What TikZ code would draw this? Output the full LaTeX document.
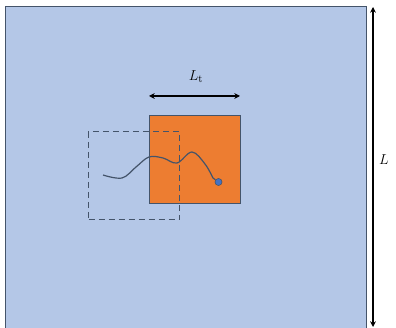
\documentclass[tikz,border=0pt]{standalone}
\usepackage{tikz}
\usetikzlibrary{arrows.meta,positioning}

\definecolor{domblue}{HTML}{B4C7E7}
\definecolor{traporange}{HTML}{ED7D31}
\definecolor{edgegray}{HTML}{44546A}
\definecolor{dotblue}{HTML}{4472C4}

\begin{document}
\begin{tikzpicture}[
    x=1pt, y=-1pt,
    every node/.style={font=\fontsize{15}{18}\selectfont},
    sq/.style={rectangle, draw=edgegray, line width=1pt, inner sep=0pt},
    dsq/.style={sq, dashed, dash pattern=on 6pt off 4pt},
    dim/.style={{Stealth[length=2mm,width=2mm]}-{Stealth[length=2mm,width=2mm]}, line width=1.2pt},
    walk/.style={draw=edgegray, line width=1.2pt},
    pt/.style={circle, draw=edgegray, fill=dotblue, minimum size=7pt, inner sep=0pt, line width=0.6pt},
  ]
  \useasboundingbox (0,0) rectangle (396,328);
  \begin{scope}
    \clip (0,0) rectangle (396,328);
    \node[sq, fill=domblue, minimum width=361pt, minimum height=330pt] (domain) at (185.5,172) {};
  \end{scope}
  \node[sq, fill=traporange, minimum width=91pt, minimum height=88pt] (trap) at (194.5,160) {};
  \node[dsq, minimum width=91pt, minimum height=88pt] (prev) at (134,176) {};
  \node[pt] (dot) at (218.5,182) {};
  \coordinate (w0) at (103,175);
  \draw[walk] plot[smooth, tension=0.6] coordinates {(w0) (122,178) (136,167) (149,157) (163,158) (177,163) (192,152) (205,164) (213,178)} -- (dot);
  \coordinate (lt1) at (149,96);
  \coordinate (lt2) at (240,96);
  \draw[dim] (lt1) -- (lt2);
  \node (ltlbl) at (196,77) {$L_{\mathrm{t}}$};
  \coordinate (l1) at (373,7);
  \coordinate (l2) at (373,327);
  \draw[dim] (l1) -- (l2);
  \node (llbl) at (384,160) {$L$};
\end{tikzpicture}
\end{document}
